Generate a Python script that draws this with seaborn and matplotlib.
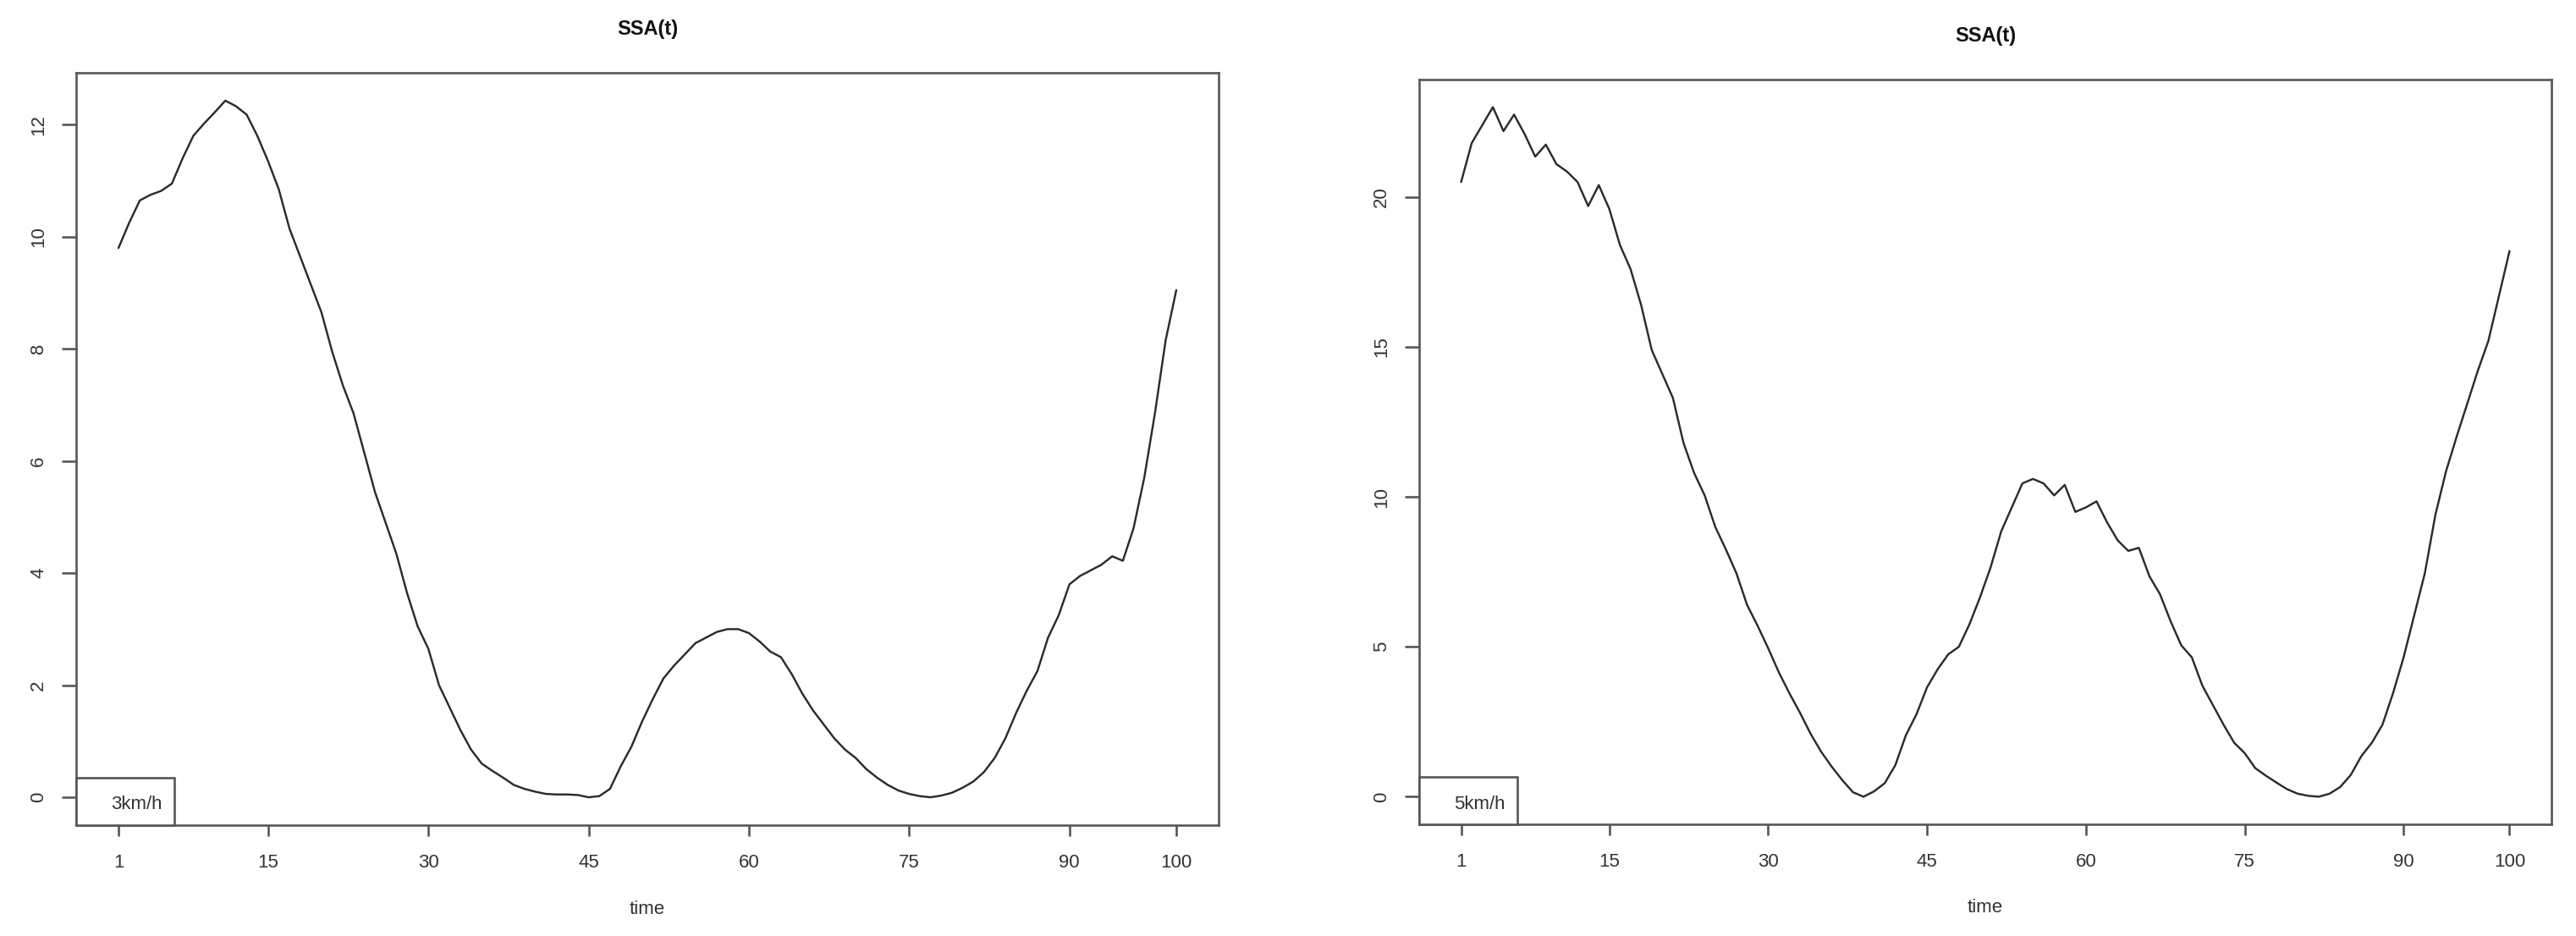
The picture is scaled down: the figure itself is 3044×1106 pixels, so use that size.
import numpy as np
import pandas as pd
import matplotlib
matplotlib.use("Agg")
import matplotlib.pyplot as plt
import seaborn as sns
from matplotlib.patches import Rectangle

# ---------------- data ----------------
time = list(range(1, 101))

ssa_3kmh = [
    9.80, 10.25, 10.65, 10.75, 10.82, 10.95, 11.40, 11.80, 12.02, 12.22,
    12.43, 12.33, 12.18, 11.80, 11.35, 10.85, 10.15, 9.65, 9.15, 8.65,
    7.95, 7.35, 6.85, 6.15, 5.45, 4.90, 4.35, 3.65, 3.05, 2.65,
    2.00, 1.60, 1.20, 0.85, 0.60, 0.47, 0.35, 0.22, 0.15, 0.10,
    0.06, 0.05, 0.05, 0.04, 0.00, 0.02, 0.15, 0.55, 0.90, 1.35,
    1.75, 2.12, 2.35, 2.55, 2.75, 2.85, 2.95, 3.00, 3.00, 2.93,
    2.78, 2.60, 2.50, 2.20, 1.85, 1.55, 1.30, 1.05, 0.85, 0.70,
    0.50, 0.35, 0.22, 0.12, 0.06, 0.02, 0.00, 0.03, 0.08, 0.17,
    0.28, 0.45, 0.70, 1.05, 1.50, 1.90, 2.25, 2.85, 3.25, 3.80,
    3.95, 4.05, 4.15, 4.30, 4.22, 4.80, 5.70, 6.85, 8.15, 9.05,
]

ssa_5kmh = [
    20.5, 21.8, 22.4, 23.0, 22.2, 22.75, 22.1, 21.35, 21.75, 21.1,
    20.85, 20.5, 19.7, 20.4, 19.6, 18.4, 17.6, 16.4, 14.9, 14.1,
    13.3, 11.8, 10.8, 10.05, 9.0, 8.25, 7.45, 6.4, 5.7, 4.95,
    4.15, 3.45, 2.8, 2.1, 1.5, 1.0, 0.55, 0.15, 0.0, 0.18,
    0.45, 1.05, 2.05, 2.75, 3.65, 4.25, 4.75, 5.0, 5.75, 6.65,
    7.65, 8.85, 9.65, 10.45, 10.6, 10.45, 10.05, 10.4, 9.5, 9.65,
    9.85, 9.15, 8.55, 8.2, 8.3, 7.35, 6.75, 5.85, 5.05, 4.65,
    3.7, 3.05, 2.4, 1.8, 1.45, 0.95, 0.7, 0.47, 0.25, 0.1,
    0.03, 0.0, 0.1, 0.32, 0.72, 1.35, 1.8, 2.4, 3.45, 4.65,
    6.05, 7.45, 9.4, 10.85, 12.0, 13.1, 14.2, 15.2, 16.7, 18.2,
]

x_ticks = [1, 15, 30, 45, 60, 75, 90, 100]
y_ticks_3 = [0, 2, 4, 6, 8, 10, 12]
y_ticks_5 = [0, 5, 10, 15, 20]
titles = ["SSA(t)", "SSA(t)"]
legend_labels = ["3km/h", "5km/h"]
x_label = "time"

# ---------------- style ----------------
sns.set_style("white")
plt.rcParams["font.family"] = ["Liberation Sans", "DejaVu Sans"]

W, H, DPI = 3044, 1106, 100
fig = plt.figure(figsize=(W / DPI, H / DPI), dpi=DPI)

PX = 72.0 / DPI  # points per pixel
spine_col = "#555555"
text_col = "#333333"

# axes boxes in pixels: left, top, right, bottom
boxes = [(90, 86, 1440, 975), (1677, 94, 3015, 974)]
series = [ssa_3kmh, ssa_5kmh]
yticks = [y_ticks_3, y_ticks_5]

for i in range(2):
    l, t, r, b = boxes[i]
    ax = fig.add_axes([l / W, 1 - b / H, (r - l) / W, (b - t) / H])
    df = pd.DataFrame({"time": time, "ssa": series[i]})
    sns.lineplot(data=df, x="time", y="ssa", ax=ax, color="#2b2b2b",
                 linewidth=2.0 * PX * 1.0 + 0.3)

    # R-style 4% axis extension
    xr = max(time) - min(time)
    ax.set_xlim(min(time) - 0.04 * xr, max(time) + 0.04 * xr)
    ymin, ymax = min(series[i]), max(series[i])
    yr = ymax - ymin
    ax.set_ylim(ymin - 0.04 * yr, ymax + 0.04 * yr)

    ax.set_xticks(x_ticks)
    ax.set_xticklabels([str(v) for v in x_ticks])
    ax.set_yticks(yticks[i])
    ax.set_yticklabels([str(v) for v in yticks[i]])
    ax.set_xlabel("")
    ax.set_ylabel("")

    for s in ax.spines.values():
        s.set_visible(True)
        s.set_color(spine_col)
        s.set_linewidth(2.6 * PX)

    ax.tick_params(axis="x", which="major", direction="out", length=13 * PX,
                   width=2.6 * PX, color=spine_col, pad=21 * PX,
                   labelsize=16, labelcolor=text_col, bottom=True)
    ax.tick_params(axis="y", which="major", direction="out", length=17 * PX,
                   width=2.6 * PX, color=spine_col, pad=17 * PX,
                   labelsize=16, labelcolor=text_col, left=True,
                   labelrotation=90)
    for lab in ax.get_yticklabels():
        lab.set_va("center")

    # title
    ax.annotate(titles[i], xy=(0.5, 1.0), xycoords="axes fraction",
                xytext=(0, 52 * PX), textcoords="offset points",
                ha="center", va="center", fontsize=17, fontweight="bold",
                color="#111111")
    # x label
    ax.annotate(x_label, xy=(0.5, 0.0), xycoords="axes fraction",
                xytext=(0, -99 * PX), textcoords="offset points",
                ha="center", va="center", fontsize=16, color=text_col)

    # legend box (bottom-left, text only)
    aw, ah = r - l, b - t
    bw, bh = 116 / aw, 56 / ah
    ax.add_patch(Rectangle((0, 0), bw, bh, transform=ax.transAxes,
                           facecolor="white", edgecolor=spine_col,
                           linewidth=2.6 * PX, zorder=5, clip_on=False))
    ax.text(71 / aw, 24 / ah, legend_labels[i], transform=ax.transAxes,
            ha="center", va="center", fontsize=16, color=text_col, zorder=6)

fig.savefig("out.png", dpi=DPI, facecolor="white")
